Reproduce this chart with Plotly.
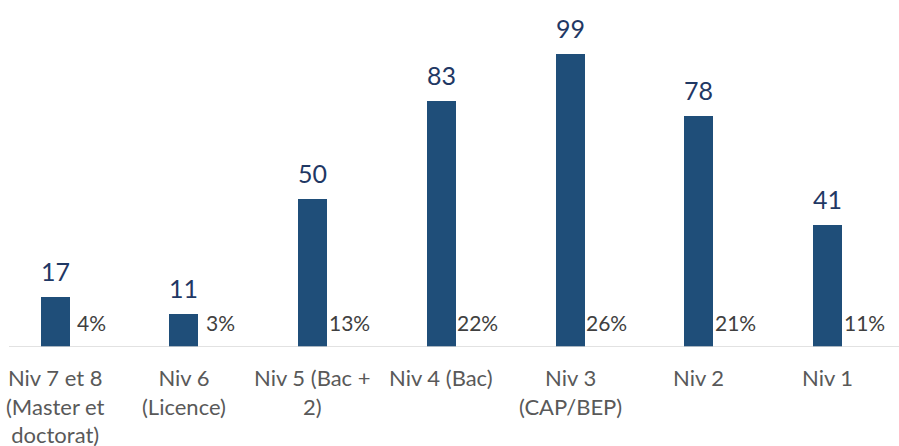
import plotly.graph_objects as go

categories = ["Niv 7 et 8 (Master et doctorat)", "Niv 6 (Licence)", "Niv 5 (Bac + 2)",
              "Niv 4 (Bac)", "Niv 3 (CAP/BEP)", "Niv 2", "Niv 1"]
tick_labels = ["Niv 7 et 8<br>(Master et<br>doctorat)", "Niv 6<br>(Licence)", "Niv 5 (Bac +<br>2)",
               "Niv 4 (Bac)", "Niv 3<br>(CAP/BEP)", "Niv 2", "Niv 1"]
values = [17, 11, 50, 83, 99, 78, 41]
percents = ["4%", "3%", "13%", "22%", "26%", "21%", "11%"]

BAR = "#1F4E79"
NAVY = "#1F3864"
FONT = "Lato"

xs = list(range(len(categories)))
px_per_unit = 128.75
x0_px = 55.0
W, H = 899, 446

fig = go.Figure()
fig.add_trace(go.Bar(x=xs, y=values, width=29 / px_per_unit, marker=dict(color=BAR, line=dict(width=0)),
                     hoverinfo="skip", showlegend=False))

ann = []
for i, v in enumerate(values):
    ann.append(dict(x=i, y=v, text=str(v), showarrow=False, xanchor="center", yanchor="bottom",
                    yshift=9, font=dict(family=FONT, size=25, color=NAVY)))
    ann.append(dict(x=i + 36.5 / px_per_unit, y=0, text=percents[i], showarrow=False, xanchor="center",
                    yanchor="bottom", yshift=10, font=dict(family=FONT, size=21, color="#404040")))
    ann.append(dict(x=i, y=0, text=tick_labels[i], showarrow=False, xanchor="center", yanchor="top",
                    yshift=-15, font=dict(family=FONT, size=22, color="#595959")))

fig.add_shape(type="line", xref="x", yref="y", x0=(9 - x0_px) / px_per_unit, x1=(W - x0_px) / px_per_unit,
              y0=0, y1=0, line=dict(color="#D9D9D9", width=1.5))

fig.update_layout(
    width=W, height=H,
    margin=dict(l=0, r=0, t=21, b=99, pad=0),
    paper_bgcolor="white", plot_bgcolor="white",
    xaxis=dict(range=[-x0_px / px_per_unit, (W - x0_px) / px_per_unit], showticklabels=False,
               showgrid=False, zeroline=False, showline=False, fixedrange=True),
    yaxis=dict(range=[0, 110], showticklabels=False, showgrid=False, zeroline=False, showline=False,
               fixedrange=True),
    annotations=ann,
    bargap=0,
)

fig.write_html("out.html", config={"displayModeBar": False},
               post_script="document.body.style.margin='0';document.body.style.overflow='hidden';")
